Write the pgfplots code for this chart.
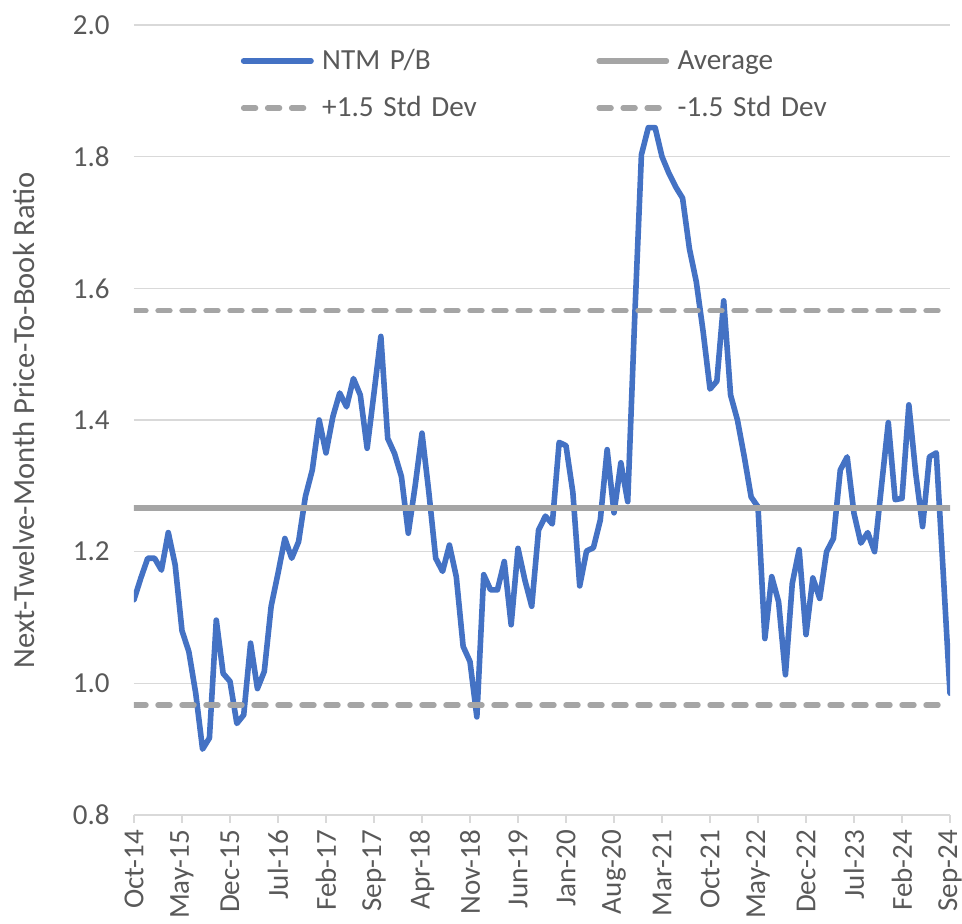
\documentclass[border=0pt]{standalone}
\usepackage{fontspec}
\setmainfont{Carlito}
\usepackage{pgfplots}
\usepackage{pgfplotstable}
\pgfplotsset{compat=1.18}
\definecolor{blueline}{HTML}{4472C4}
\definecolor{grayline}{HTML}{A5A5A5}
\definecolor{gridc}{HTML}{D9D9D9}
\definecolor{txt}{HTML}{595959}

\pgfplotstableread{
idx val
0 1.127
1 1.160
2 1.190
3 1.190
4 1.172
5 1.229
6 1.180
7 1.080
8 1.048
9 0.985
10 0.900
11 0.917
12 1.096
13 1.015
14 1.003
15 0.939
16 0.952
17 1.061
18 0.992
19 1.018
20 1.117
21 1.167
22 1.220
23 1.190
24 1.215
25 1.284
26 1.324
27 1.400
28 1.350
29 1.405
30 1.441
31 1.420
32 1.463
33 1.438
34 1.357
35 1.441
36 1.527
37 1.372
38 1.349
39 1.314
40 1.228
41 1.300
42 1.380
43 1.290
44 1.190
45 1.170
46 1.210
47 1.162
48 1.056
49 1.033
50 0.949
51 1.165
52 1.142
53 1.142
54 1.185
55 1.089
56 1.205
57 1.157
58 1.117
59 1.233
60 1.254
61 1.242
62 1.366
63 1.361
64 1.290
65 1.148
66 1.201
67 1.206
68 1.248
69 1.355
70 1.259
71 1.335
72 1.276
73 1.550
74 1.803
75 1.844
76 1.844
77 1.800
78 1.775
79 1.754
80 1.737
81 1.660
82 1.610
83 1.534
84 1.447
85 1.459
86 1.581
87 1.438
88 1.400
89 1.344
90 1.283
91 1.268
92 1.068
93 1.162
94 1.124
95 1.013
96 1.152
97 1.203
98 1.074
99 1.160
100 1.129
101 1.200
102 1.220
103 1.324
104 1.344
105 1.258
106 1.213
107 1.229
108 1.200
109 1.299
110 1.396
111 1.279
112 1.281
113 1.423
114 1.319
115 1.238
116 1.344
117 1.350
118 1.170
119 0.985
}\ntm

\begin{document}
\begin{tikzpicture}
\begin{axis}[
  scale only axis, width=408pt, height=395pt,
  xmin=0, xmax=119, ymin=0.8, ymax=2.0,
  axis line style={draw=none},
  ytick={0.8,1.0,1.2,1.4,1.6,1.8,2.0},
  y tick label style={/pgf/number format/fixed, /pgf/number format/fixed zerofill, /pgf/number format/precision=1, /pgf/number format/assume math mode=true, font=\fontsize{14.5}{16}\selectfont, text=txt, xshift=-8.7pt},
  ytick style={draw=none},
  ymajorgrids, grid style={gridc, line width=0.75pt},
  xtick={0,7,14,21,28,35,42,49,56,63,70,77,84,91,98,105,112,119},
  xticklabels={Oct-14,May-15,Dec-15,Jul-16,Feb-17,Sep-17,Apr-18,Nov-18,Jun-19,Jan-20,Aug-20,Mar-21,Oct-21,May-22,Dec-22,Jul-23,Feb-24,Sep-24},
  x tick label style={rotate=90, anchor=east, font=\fontsize{14.5}{16}\selectfont, text=txt},
  xtick pos=bottom, xtick align=outside, major tick length=4pt,
  xtick style={gridc, line width=0.75pt},
  ylabel={Next-Twelve-Month Price-To-Book Ratio},
  every axis y label/.style={at={(axis description cs:-0.148,0.5)}, rotate=90, anchor=north, inner sep=0pt, font=\fontsize{15.3}{17}\selectfont, text=txt},
  legend columns=2,
  legend style={at={(rel axis cs:0.1309,0.9709)}, anchor=north west, draw=none, fill=none, inner sep=0pt, outer sep=0pt,
    font=\fontsize{14.6}{16}\selectfont, text=txt, column sep=4.2pt, row sep=10.5pt,
    nodes={inner sep=0pt, text height=11pt, text depth=2pt, text width=132.9pt, align=left}},
  legend image code/.code={\draw[#1] (0pt,0pt) -- (33.7pt,0pt);},
]
\addplot[blueline, line width=2.8pt, line join=round, line cap=round] table[x=idx, y=val] {\ntm};
\addlegendentry{NTM P/B}
\addplot[grayline, line width=2.7pt, line cap=round] coordinates {(0,1.2665) (119,1.2665)};
\addlegendentry{Average}
\addplot[grayline, line width=2.7pt, line cap=round, dash pattern=on 6pt off 6pt] coordinates {(0,1.566) (119,1.566)};
\addlegendentry{+1.5 Std Dev}
\addplot[grayline, line width=2.7pt, line cap=round, dash pattern=on 6pt off 6pt] coordinates {(0,0.967) (119,0.967)};
\addlegendentry{-1.5 Std Dev}
\coordinate (bl) at (rel axis cs:0,0);
\coordinate (tr) at (rel axis cs:1,1);
\end{axis}
\pgfresetboundingbox
\path (bl) ++(-67pt,-54.5pt) rectangle ([shift={(6pt,12.5pt)}]tr);
\end{tikzpicture}
\end{document}
